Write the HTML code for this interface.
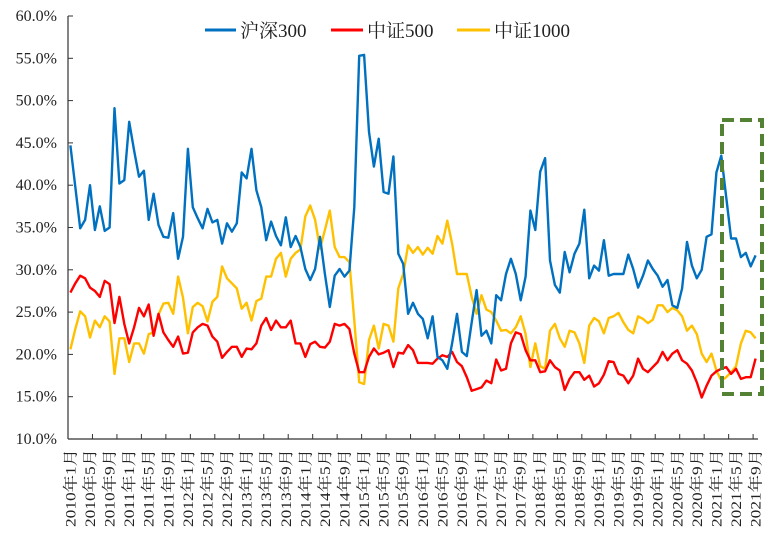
<!DOCTYPE html>
<html><head><meta charset="utf-8"><style>
body{margin:0;background:#fff;}
svg text{font-family:"Liberation Serif","Noto Serif CJK SC","Noto Sans CJK SC",serif;fill:#222;}
</style></head><body>
<svg id="chart" width="771" height="534" viewBox="0 0 771 534" xmlns="http://www.w3.org/2000/svg">
<g id="axes"></g>
<g id="series"></g>
<rect x="722" y="120" width="40" height="274" fill="none" stroke="#548235" stroke-width="4" stroke-dasharray="12,6"/>
<g>
 <g><line x1="205" y1="30" x2="236" y2="30" stroke="#0070C0" stroke-width="3"/><text x="240" y="37" font-size="19">沪深300</text></g>
 <g><line x1="331" y1="30" x2="363" y2="30" stroke="#FF0000" stroke-width="3"/><text x="367" y="37" font-size="19">中证500</text></g>
 <g><line x1="457" y1="30" x2="490" y2="30" stroke="#FFC000" stroke-width="3"/><text x="494" y="37" font-size="19">中证1000</text></g>
</g>
</svg>
<script>
const hs300=[44.7,39.8,34.9,35.9,40,34.7,37.5,34.6,35,49.1,40.2,40.6,47.5,44.1,41,41.7,35.9,39,35.3,33.9,33.8,36.7,31.3,33.9,44.3,37.4,36.1,34.9,37.2,35.6,35.9,33.1,35.5,34.5,35.5,41.5,40.8,44.3,39.4,37.4,33.5,35.7,34,32.9,36.2,32.7,34,32.7,30.1,28.8,30.1,33.9,29.5,25.6,29.3,30.1,29.2,29.9,37.4,55.3,55.4,46.3,42.2,45.5,39.2,39,43.4,31.9,30.7,24.8,26.1,24.8,24.2,21.9,24.5,19.7,19.3,18.3,21.3,24.8,20.3,19.8,23.8,27.6,22.2,22.8,21.3,27,26.4,29.5,31.3,29.5,26.4,29.2,37,34.7,41.6,43.2,31.1,28.2,27.3,32.1,29.7,31.9,33.1,37.1,29,30.5,29.9,33.5,29.3,29.5,29.5,29.5,31.8,30.1,27.9,29.3,31.1,30.1,29.3,28,28.8,25.8,25.5,27.8,33.3,30.5,29,30,33.9,34.2,41.5,43.5,38.6,33.7,33.7,31.5,32,30.4,31.7];
const zz500=[27.3,28.4,29.3,29.0,27.9,27.5,26.8,28.7,28.3,23.7,26.8,23.6,21.3,23.2,25.5,24.5,25.9,22.2,24.8,22.6,21.7,20.9,22.1,20.1,20.2,22.6,23.2,23.6,23.4,22.1,21.5,19.6,20.3,20.9,20.9,19.7,20.7,20.6,21.3,23.4,24.3,22.9,24,23.2,23.2,24,21.3,21.3,19.7,21.2,21.5,20.9,20.8,21.5,23.6,23.4,23.6,23,20.1,17.9,17.9,19.7,20.7,20,20.2,20.5,18.5,20.2,20.1,21.1,20.5,19,19,19,18.9,19.5,19.9,19.7,20.3,19.1,18.6,17.3,15.7,15.9,16.1,16.9,16.6,19.4,18.1,18.3,21.3,22.6,22.4,20.5,19.3,19.3,17.9,18,19.3,18.5,18.1,15.8,17.1,17.9,17.9,17,17.5,16.2,16.6,17.6,19.2,19.1,17.7,17.5,16.6,17.5,19.5,18.3,17.9,18.5,19.1,20.3,19.3,20.1,20.5,19.3,18.9,18.1,16.7,14.9,16.3,17.5,18,18.3,18.5,17.7,18.3,17.1,17.3,17.3,19.5];
const zz1000=[20.6,23,25.1,24.5,22,24,23.2,24.5,23.9,17.7,21.9,21.9,19.1,21.3,21.3,20.1,22.4,22.6,24.7,26,26.1,24.8,29.2,26.7,22.5,25.6,26.1,25.7,23.9,26.2,26.8,30.4,29,28.4,27.8,25.4,26.1,24,26.3,26.6,29.2,29.2,31.3,32,29.2,31.3,32,32.4,36.3,37.6,35.9,32.5,34.7,37,32.7,31.5,31.5,30.9,24,16.7,16.5,21.7,23.4,20.7,23.6,23.4,21.5,27.8,29.5,32.9,32,32.7,31.8,32.6,31.9,34,33.1,35.8,33.1,29.5,29.5,29.5,26.8,24.8,27,25.3,25,24,22.8,22.9,22.5,23.2,24.5,22.4,18.5,21.3,18.6,18.3,22.8,23.6,21.9,20.9,22.8,22.6,21.3,19,23.4,24.3,23.9,22.5,24.3,24.5,24.9,23.8,22.9,22.5,24.5,24.2,23.7,24.1,25.8,25.8,25,25.5,25.2,24.5,22.8,23.4,22.4,20.1,19.1,20.1,18.1,16.9,17.3,17.9,18.6,21.3,22.8,22.6,21.9];
const yTicks=[10,15,20,25,30,35,40,45,50,55,60];
const startYear=2010, nMonths=141;

const NS="http://www.w3.org/2000/svg";
const X0=68,X1=758,Y0=439,Y1=16;
const bw=(X1-X0)/nMonths;
function xs(i){return X0+bw*(i+0.5);}
function ys(v){return Y0-(v-10)/50*(Y0-Y1);}
function mk(tag,attrs,parent){const e=document.createElementNS(NS,tag);for(const k in attrs)e.setAttribute(k,attrs[k]);parent.appendChild(e);return e;}
const axes=document.getElementById('axes'),series=document.getElementById('series');
let e=mk('line',{x1:X0,y1:Y1,x2:X0,y2:Y0,stroke:'#333','stroke-width':1.2},axes);


e=mk('line',{x1:X0,y1:Y0,x2:X1,y2:Y0,stroke:'#333','stroke-width':1.2},axes);


yTicks.forEach(v=>{
 const y=ys(v);
 const t=mk('line',{x1:X0,y1:y,x2:X0+5,y2:y,stroke:'#333'},axes);
 
 
 const l=mk('text',{x:X0-11,y:y+5,'text-anchor':'end','font-size':16},axes);
 l.textContent=v.toFixed(1)+'%';
 
 
});
for(let k=0;k*5<=nMonths;k++){
 const x=X0+bw*5*k;
 const t=mk('line',{x1:x,y1:Y0,x2:x,y2:Y0-5,stroke:'#333'},axes);
 
 
}
for(let i=0;i<nMonths;i+=4){
 const yr=startYear+Math.floor(i/12),m=i%12+1;
 const x=xs(i)+5;
 const l=mk('text',{x:x,y:449,'text-anchor':'end','font-size':15,textLength:(m<10?78:86),lengthAdjust:'spacingAndGlyphs',transform:`rotate(-90 ${x} 449)`},axes);
 l.textContent=yr+'年'+m+'月';
 
 
}
function draw(arr,color,name){
 const d=arr.map((v,i)=>(i?'L':'M')+xs(i).toFixed(1)+','+ys(v).toFixed(1)).join('');
 const p=mk('path',{d:d,fill:'none',stroke:color,'stroke-width':2.4,'stroke-linejoin':'round'},series);
 
 
}
draw(zz1000,'#FFC000','line-zz1000');
draw(zz500,'#FF0000','line-zz500');
draw(hs300,'#0070C0','line-hs300');
</script>
</body></html>
